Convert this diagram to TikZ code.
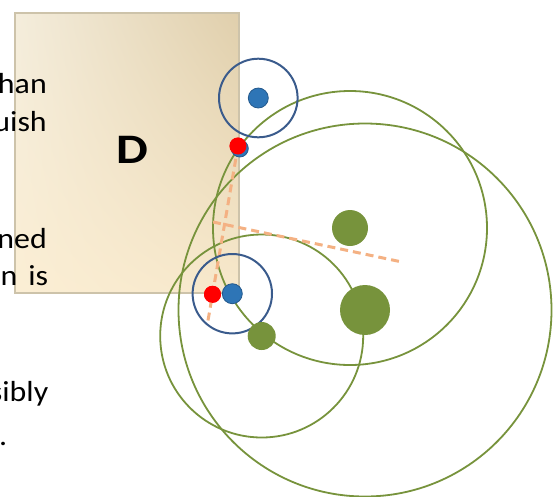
\documentclass[tikz,border=0pt]{standalone}
\usepackage{fontspec}
\setmainfont{Carlito}
\usetikzlibrary{calc,shadings}
\definecolor{orbitgreen}{RGB}{119,147,60}
\definecolor{ringblue}{RGB}{58,91,140}
\definecolor{dotblue}{RGB}{46,117,182}
\definecolor{dotedge}{RGB}{36,89,140}
\definecolor{guideorange}{RGB}{244,177,131}
\definecolor{frameline}{RGB}{205,195,170}
\definecolor{tanUL}{RGB}{244,237,220}
\definecolor{tanUR}{RGB}{224,207,172}
\definecolor{tanLL}{RGB}{251,238,212}
\definecolor{tanLR}{RGB}{247,232,203}
\tikzset{
  dot/.style={circle,inner sep=0pt},
  reddot/.style={dot,fill=red,minimum size=17pt},
  bluedot/.style={dot,fill=dotblue,draw=dotedge,line width=0.8pt,minimum size=20pt},
  greendot/.style={dot,fill=orbitgreen},
  ring/.style={draw=ringblue,line width=2pt},
  orbit/.style={draw=orbitgreen,line width=1.8pt},
  guide/.style={draw=guideorange,line width=3pt,dash pattern=on 8pt off 5pt},
  frag/.style={anchor=base east,inner sep=0pt,xscale=1.1,font=\fontsize{29}{34}\selectfont}
}
\begin{document}
\begin{tikzpicture}[x=1pt,y=-1pt]
\useasboundingbox (0,0) rectangle (559,496);
\clip (0,0) rectangle (559,496);
% domain D
\shade[upper left=tanUL,upper right=tanUR,lower left=tanLL,lower right=tanLR] (15,13) rectangle (239,293);
\draw[frameline,line width=1.5pt] (15,13) rectangle (239,293);
\node[font=\fontsize{42}{48}\selectfont\bfseries,inner sep=0pt,xscale=1.2] (dlabel) at (132,150) {D};
% cut-off text lines
\node[frag] (t1) at (47,93.3) {han};
\node[frag] (t2) at (47,131.7) {uish};
\node[frag] (t3) at (47,248.3) {ned};
\node[frag] (t4) at (48.5,285) {n\hspace{10pt}is};
\node[frag] (t5) at (48.5,401.7) {sibly};
\node[frag] (t6) at (7.5,445) {.};
% centres
\coordinate (cs) at (261.7,336);
\coordinate (cm) at (350,228);
\coordinate (cl) at (365,310);
\coordinate (cbt) at (258.3,98);
\coordinate (cbb) at (232.3,293.7);
% big circles
\draw[orbit] (cs) circle (101.5);
\draw[orbit] (cm) circle (137);
\draw[orbit] (cl) circle (186.5);
% guide lines
\node[reddot] (rtop) at (238,146) {};
\node[reddot] (rbot) at (212.5,294.3) {};
\coordinate (rend) at ($(rtop)!1.19!(rbot)$);
\coordinate (bisA) at (213,222);
\coordinate (bisB) at (402,262);
\draw[guide] (rtop.center) -- (rend);
\draw[guide] (bisA) -- (bisB);
% blue rings and dots
\draw[ring] (cbt) circle (39.3);
\draw[ring] (cbb) circle (39.7);
\node[bluedot] (btop) at (cbt) {};
\node[bluedot] (bbot) at (cbb) {};
\node[bluedot,minimum size=17pt] (bhid) at (239.8,148.5) {};
\node[reddot] at (rtop) {};
\node[reddot] at (rbot) {};
% green dots
\node[greendot,minimum size=28pt] (gs) at (cs) {};
\node[greendot,minimum size=36pt] (gm) at (cm) {};
\node[greendot,minimum size=50pt] (gl) at (cl) {};
\end{tikzpicture}
\end{document}
